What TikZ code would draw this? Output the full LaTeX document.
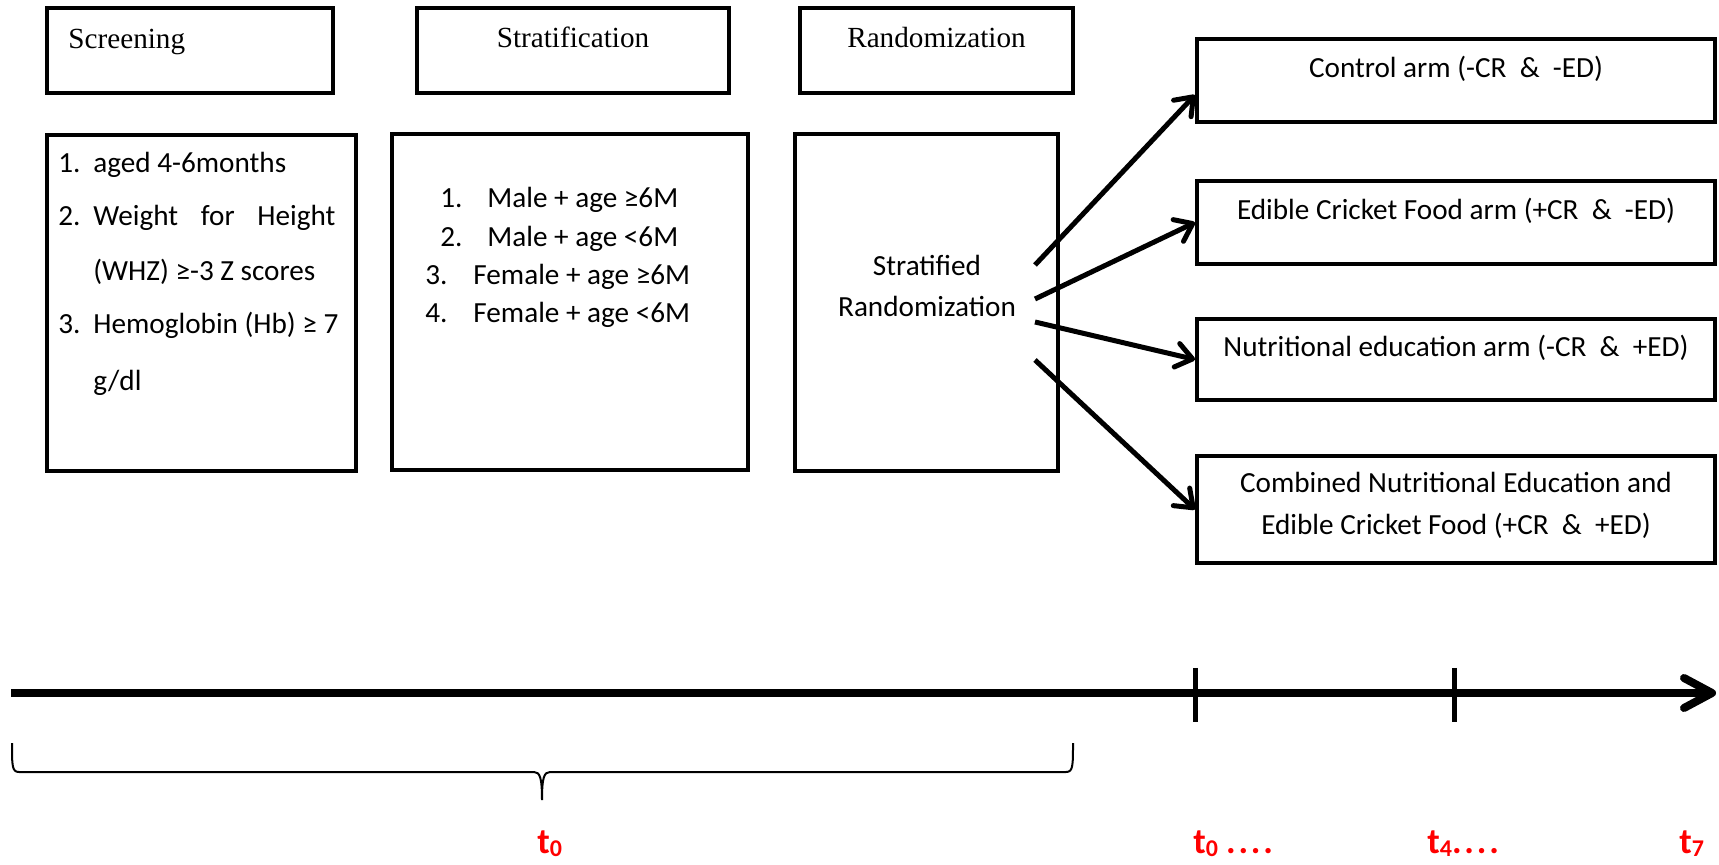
\documentclass[tikz,border=0pt]{standalone}
\usepackage{fontspec}
\setmainfont{Liberation Serif}
\newfontfamily\calib{Carlito}
\usetikzlibrary{arrows.meta}
\newcommand\tsb[1]{t\raisebox{-1.6pt}{\fontsize{12}{13}\selectfont #1}}
\newcommand\dotrow{.\kern1.4pt.\kern1.4pt.\kern1.4pt.}
\begin{document}
\begin{tikzpicture}[x=0.5pt,y=-0.5pt,
  box/.style={draw, line width=2pt, inner sep=0pt},
  hdr/.style={font=\fontsize{14.6}{17}\selectfont, anchor=base, inner sep=0pt},
  txt/.style={font=\calib\fontsize{14.6}{17}\selectfont, anchor=base, inner sep=0pt},
  lbl/.style={font=\calib\bfseries\fontsize{18}{20}\selectfont, text=red, anchor=base west, inner sep=0pt},
  arr/.style={line width=2.5pt, -{Straight Barb[length=8pt,width=12pt,round]}},
  tick/.style={line width=2.5pt}]
\useasboundingbox (0,0) rectangle (1719,865);

% header boxes
\node[box, minimum width=143pt, minimum height=42.5pt] (scrH) at (190,50.5) {};
\node[hdr, anchor=base west] (scrHt) at (68,49) {Screening};
\node[box, minimum width=156pt, minimum height=42.5pt] (strH) at (573,50.5) {};
\node[hdr] (strHt) at (573,48) {Stratification};
\node[box, minimum width=136.5pt, minimum height=42.5pt] (ranH) at (936.5,50.5) {};
\node[hdr] (ranHt) at (936.5,48) {Randomization};

% lower boxes
\node[box, minimum width=154.5pt, minimum height=168pt] (scrL) at (201.5,303) {};
\node[box, minimum width=178pt, minimum height=168pt] (strL) at (570,302) {};
\node[box, minimum width=131.5pt, minimum height=168.5pt] (ranL) at (926.5,302.5) {};

% screening list
\node[txt, anchor=base west] (n1) at (58,173) {1.};
\node[txt, anchor=base west] (i1) at (93,173) {aged 4-6months};
\node[txt, anchor=base west] (n2) at (58,226) {2.};
\node[txt, anchor=base west] (i2) at (93,226) {\makebox[121pt][s]{Weight for Height}};
\node[txt, anchor=base west] (i2b) at (93,281) {(WHZ) ≥-3 Z scores};
\node[txt, anchor=base west] (n3) at (58,334) {3.};
\node[txt, anchor=base west] (i3) at (93,334) {Hemoglobin (Hb) ≥ 7};
\node[txt, anchor=base west] (i3b) at (93,391) {g/dl};

% stratification list
\node[txt, anchor=base west] (m1) at (440,208) {1.};
\node[txt, anchor=base west] (j1) at (487,208) {Male + age ≥6M};
\node[txt, anchor=base west] (m2) at (440,247) {2.};
\node[txt, anchor=base west] (j2) at (487,247) {Male + age <6M};
\node[txt, anchor=base west] (m3) at (425,285) {3.};
\node[txt, anchor=base west] (j3) at (473,285) {Female + age ≥6M};
\node[txt, anchor=base west] (m4) at (425,323) {4.};
\node[txt, anchor=base west] (j4) at (473,323) {Female + age <6M};

% stratified randomization
\node[txt] (sr1) at (927,276) {Stratified};
\node[txt] (sr2) at (927,317) {Randomization};

% arms
\node[box, minimum width=259pt, minimum height=41.5pt] (a1) at (1456,80.5) {};
\node[txt] (a1t) at (1456,78) {Control arm (-CR\ \ \&\ \ -ED)};
\node[box, minimum width=259pt, minimum height=41.5pt] (a2) at (1456,222.5) {};
\node[txt] (a2t) at (1456,220) {Edible Cricket Food arm (+CR\ \ \&\ \ -ED)};
\node[box, minimum width=259pt, minimum height=40.5pt] (a3) at (1456,359.5) {};
\node[txt] (a3t) at (1456,357) {Nutritional education arm (-CR\ \ \&\ \ +ED)};
\node[box, minimum width=259pt, minimum height=53.5pt] (a4) at (1456,509.5) {};
\node[txt] (a4t) at (1456,493) {Combined Nutritional Education and};
\node[txt] (a4u) at (1456,535) {Edible Cricket Food (+CR\ \ \&\ \ +ED)};

% arrows
\coordinate (s1) at (1035,265);
\coordinate (s2) at (1035,299);
\coordinate (s3) at (1035,322);
\coordinate (s4) at (1035,360);
\coordinate (e1) at (1195,95);
\draw[arr] (s1) -- (e1);
\draw[arr] (s2) -- (a2.west);
\draw[arr] (s3) -- (a3.west);
\draw[arr] (s4) -- (a4.west);

% timeline
\coordinate (tl0) at (11,693);
\coordinate (tl1) at (1716,693);
\draw[line width=4pt, -{Straight Barb[length=14pt,width=15pt,round]}] (tl0) -- (tl1);
\coordinate (k1a) at (1195,668);
\coordinate (k1b) at (1195,722);
\coordinate (k2a) at (1454,668);
\coordinate (k2b) at (1454,722);
\draw[tick] (k1a) -- (k1b);
\draw[tick] (k2a) -- (k2b);

% brace
\draw[line width=1pt] (12,743) .. controls (12,766) and (12,772) .. (19,772)
  -- (534,772) .. controls (540,772) and (542,778) .. (542,800)
  .. controls (542,778) and (544,772) .. (550,772)
  -- (1066,772) .. controls (1073,772) and (1073,766) .. (1073,743);

% labels
\node[lbl] (L0) at (537,853) {\tsb{0}};
\node[lbl] (L1) at (1193,853) {\tsb{0} \dotrow};
\node[lbl] (L2) at (1427,853) {\tsb{4}\dotrow};
\node[lbl] (L3) at (1679,853) {\tsb{7}};
\end{tikzpicture}
\end{document}
